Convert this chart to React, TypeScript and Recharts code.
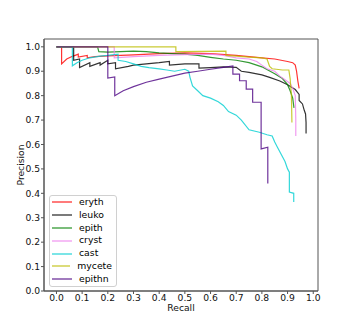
import React from 'react';
import { LineChart, Line, XAxis, YAxis, Legend, Label, ReferenceArea } from 'recharts';

const ticks = [0, 0.1, 0.2, 0.3, 0.4, 0.5, 0.6, 0.7, 0.8, 0.9, 1.0];
const seriesNames = ['eryth', 'leuko', 'epith', 'cryst', 'cast', 'mycete', 'epithn'];
const seriesColors = ['#ff0000', '#000000', '#008000', '#ee82ee', '#00ced1', '#bcbd00', '#4b0082'];

const eryth: [number, number][] = [
  [0, 1.0], [0.02, 1.0], [0.02, 0.93], [0.04, 0.95], [0.06, 0.96], [0.085, 0.97], [0.085, 0.958],
  [0.12, 0.965], [0.12, 0.955], [0.15, 0.96], [0.2, 0.963], [0.3, 0.967], [0.4, 0.972], [0.5, 0.975],
  [0.6, 0.972], [0.7, 0.965], [0.75, 0.96], [0.8, 0.955], [0.85, 0.95], [0.9, 0.94], [0.92, 0.935],
  [0.93, 0.925], [0.935, 0.9], [0.94, 0.86], [0.945, 0.83],
];
const leuko: [number, number][] = [
  [0, 1.0], [0.067, 1.0], [0.067, 0.945], [0.09, 0.95], [0.09, 0.915], [0.13, 0.935], [0.13, 0.92],
  [0.17, 0.935], [0.17, 0.925], [0.2, 0.945], [0.2, 0.93], [0.23, 0.935], [0.23, 0.91], [0.28, 0.92],
  [0.3, 0.925], [0.35, 0.93], [0.4, 0.935], [0.44, 0.94], [0.44, 0.925], [0.5, 0.93], [0.555, 0.93],
  [0.555, 0.913], [0.6, 0.915], [0.65, 0.918], [0.7, 0.916], [0.72, 0.9], [0.75, 0.895], [0.8, 0.885],
  [0.83, 0.875], [0.87, 0.86], [0.9, 0.845], [0.93, 0.825], [0.945, 0.805], [0.945, 0.78],
  [0.958, 0.766], [0.965, 0.74], [0.97, 0.725], [0.972, 0.69], [0.972, 0.645],
];
const epith: [number, number][] = [
  [0, 1.0], [0.16, 1.0], [0.165, 0.98], [0.2, 0.978], [0.25, 0.98], [0.3, 0.982], [0.35, 0.98],
  [0.4, 0.975], [0.45, 0.972], [0.5, 0.97], [0.55, 0.965], [0.6, 0.957], [0.65, 0.95], [0.7, 0.945],
  [0.75, 0.935], [0.8, 0.918], [0.85, 0.89], [0.88, 0.87], [0.9, 0.845], [0.91, 0.82], [0.92, 0.79],
  [0.925, 0.75],
];
const cryst: [number, number][] = [
  [0, 1.0], [0.225, 1.0], [0.225, 0.955], [0.3, 0.96], [0.4, 0.965], [0.5, 0.968], [0.6, 0.97],
  [0.65, 0.965], [0.7, 0.955], [0.75, 0.95], [0.78, 0.94], [0.8, 0.925], [0.82, 0.91], [0.85, 0.9],
  [0.87, 0.88], [0.89, 0.865], [0.91, 0.85], [0.92, 0.83], [0.93, 0.8], [0.932, 0.7], [0.932, 0.635],
];
const cast: [number, number][] = [
  [0, 1.0], [0.062, 1.0], [0.062, 0.922], [0.08, 0.935], [0.1, 0.945], [0.13, 0.955], [0.17, 0.962],
  [0.2, 0.965], [0.24, 0.97], [0.24, 0.945], [0.27, 0.94], [0.3, 0.93], [0.33, 0.92], [0.36, 0.915],
  [0.4, 0.91], [0.43, 0.905], [0.46, 0.9], [0.5, 0.908], [0.515, 0.9], [0.52, 0.875], [0.53, 0.84],
  [0.55, 0.82], [0.57, 0.8], [0.6, 0.79], [0.63, 0.775], [0.65, 0.76], [0.67, 0.735], [0.7, 0.72],
  [0.72, 0.7], [0.75, 0.66], [0.79, 0.65], [0.82, 0.64], [0.84, 0.635], [0.85, 0.61], [0.86, 0.59],
  [0.875, 0.56], [0.89, 0.53], [0.9, 0.5], [0.907, 0.487], [0.907, 0.405], [0.924, 0.4], [0.924, 0.364],
];
const mycete: [number, number][] = [
  [0, 1.0], [0.465, 1.0], [0.465, 0.98], [0.66, 0.982], [0.66, 0.965], [0.7, 0.962], [0.75, 0.958],
  [0.8, 0.955], [0.82, 0.95], [0.83, 0.92], [0.84, 0.91], [0.88, 0.905], [0.905, 0.905], [0.91, 0.87],
  [0.915, 0.8], [0.917, 0.69],
];
const epithn: [number, number][] = [
  [0, 1.0], [0.2, 1.0], [0.2, 0.872], [0.227, 0.877], [0.227, 0.8], [0.26, 0.82], [0.3, 0.837],
  [0.35, 0.855], [0.4, 0.868], [0.45, 0.88], [0.5, 0.892], [0.55, 0.9], [0.6, 0.908], [0.65, 0.916],
  [0.687, 0.922], [0.687, 0.888], [0.713, 0.888], [0.713, 0.861], [0.739, 0.861], [0.739, 0.827],
  [0.764, 0.827], [0.764, 0.773], [0.797, 0.773], [0.797, 0.582], [0.823, 0.589], [0.823, 0.44],
];

const seriesData = [eryth, leuko, epith, cryst, cast, mycete, epithn];

const X_DOMAIN: [number, number] = [-0.0485, 1.0185];
const Y_DOMAIN: [number, number] = [0, 1.032];

const FONT = 'DejaVu Sans, sans-serif';

const LegendBox = () => (
  <div
    style={{
      border: '1px solid #d0d0d0',
      borderRadius: 3,
      background: 'rgba(255,255,255,0.8)',
      padding: '0 4px 0 2px',
      fontFamily: FONT,
      fontSize: 9.3,
      color: '#000',
      boxSizing: 'border-box',
    }}
  >
    {seriesNames.map((n, i) => (
      <div key={n} style={{ display: 'flex', alignItems: 'center', height: 12.8 }}>
        <svg width={20} height={4} style={{ display: 'block' }}>
          <line x1={0} y1={2} x2={20} y2={2} stroke={seriesColors[i]} strokeOpacity={0.8} strokeWidth={1.3} />
        </svg>
        <span style={{ marginLeft: 7, lineHeight: '12.8px' }}>{n}</span>
      </div>
    ))}
  </div>
);

export default function App() {
  const tickStyle = { fontFamily: FONT, fontSize: 9.2, fill: '#111' };
  return (
    <div style={{ position: 'absolute', left: 0, top: 0, width: 354, height: 327, background: '#fff' }}>
      <LineChart width={354} height={327} margin={{ top: 39, right: 36, left: 0, bottom: 0 }}>
        <XAxis
          xAxisId="b"
          type="number"
          dataKey="x"
          domain={X_DOMAIN}
          allowDataOverflow
          ticks={ticks}
          tickFormatter={(v: number) => v.toFixed(1)}
          height={36}
          tickSize={3}
          tickMargin={0}
          stroke="#555"
          tick={tickStyle}
          interval={0}
        >
          <Label
            content={() => (
              <text x={181} y={307.5} textAnchor="middle" dominantBaseline="central" fontFamily={FONT} fontSize={9.2} fill="#111">
                Recall
              </text>
            )}
          />
        </XAxis>
        <YAxis
          yAxisId="l"
          type="number"
          domain={Y_DOMAIN}
          allowDataOverflow
          ticks={ticks}
          tickFormatter={(v: number) => v.toFixed(1)}
          width={44}
          tickSize={3}
          tickMargin={1}
          stroke="#555"
          tick={tickStyle}
          interval={0}
        >
          <Label
            content={() => (
              <text x={20} y={165} transform="rotate(-90 20 165)" textAnchor="middle" dominantBaseline="central" fontFamily={FONT} fontSize={9.2} fill="#111">
                Precision
              </text>
            )}
          />
        </YAxis>
        <ReferenceArea
          xAxisId="b"
          yAxisId="l"
          x1={X_DOMAIN[0]}
          x2={X_DOMAIN[1]}
          y1={Y_DOMAIN[0]}
          y2={Y_DOMAIN[1]}
          fill="none"
          stroke="#555"
          strokeWidth={1}
          ifOverflow="visible"
        />
        {seriesData.map((d, i) => (
          <Line
            key={seriesNames[i]}
            xAxisId="b"
            yAxisId="l"
            data={d.map(([x, y]) => ({ x, y }))}
            dataKey="y"
            name={seriesNames[i]}
            type="linear"
            stroke={seriesColors[i]}
            strokeOpacity={0.8}
            strokeWidth={1.2}
            dot={false}
            activeDot={false}
            isAnimationActive={false}
          />
        ))}
        <Legend
          layout="vertical"
          align="center"
          verticalAlign="middle"
          content={() => <LegendBox />}
          wrapperStyle={{ position: 'absolute', left: 49, top: 195, width: 68, height: 'auto' }}
        />
      </LineChart>
    </div>
  );
}
